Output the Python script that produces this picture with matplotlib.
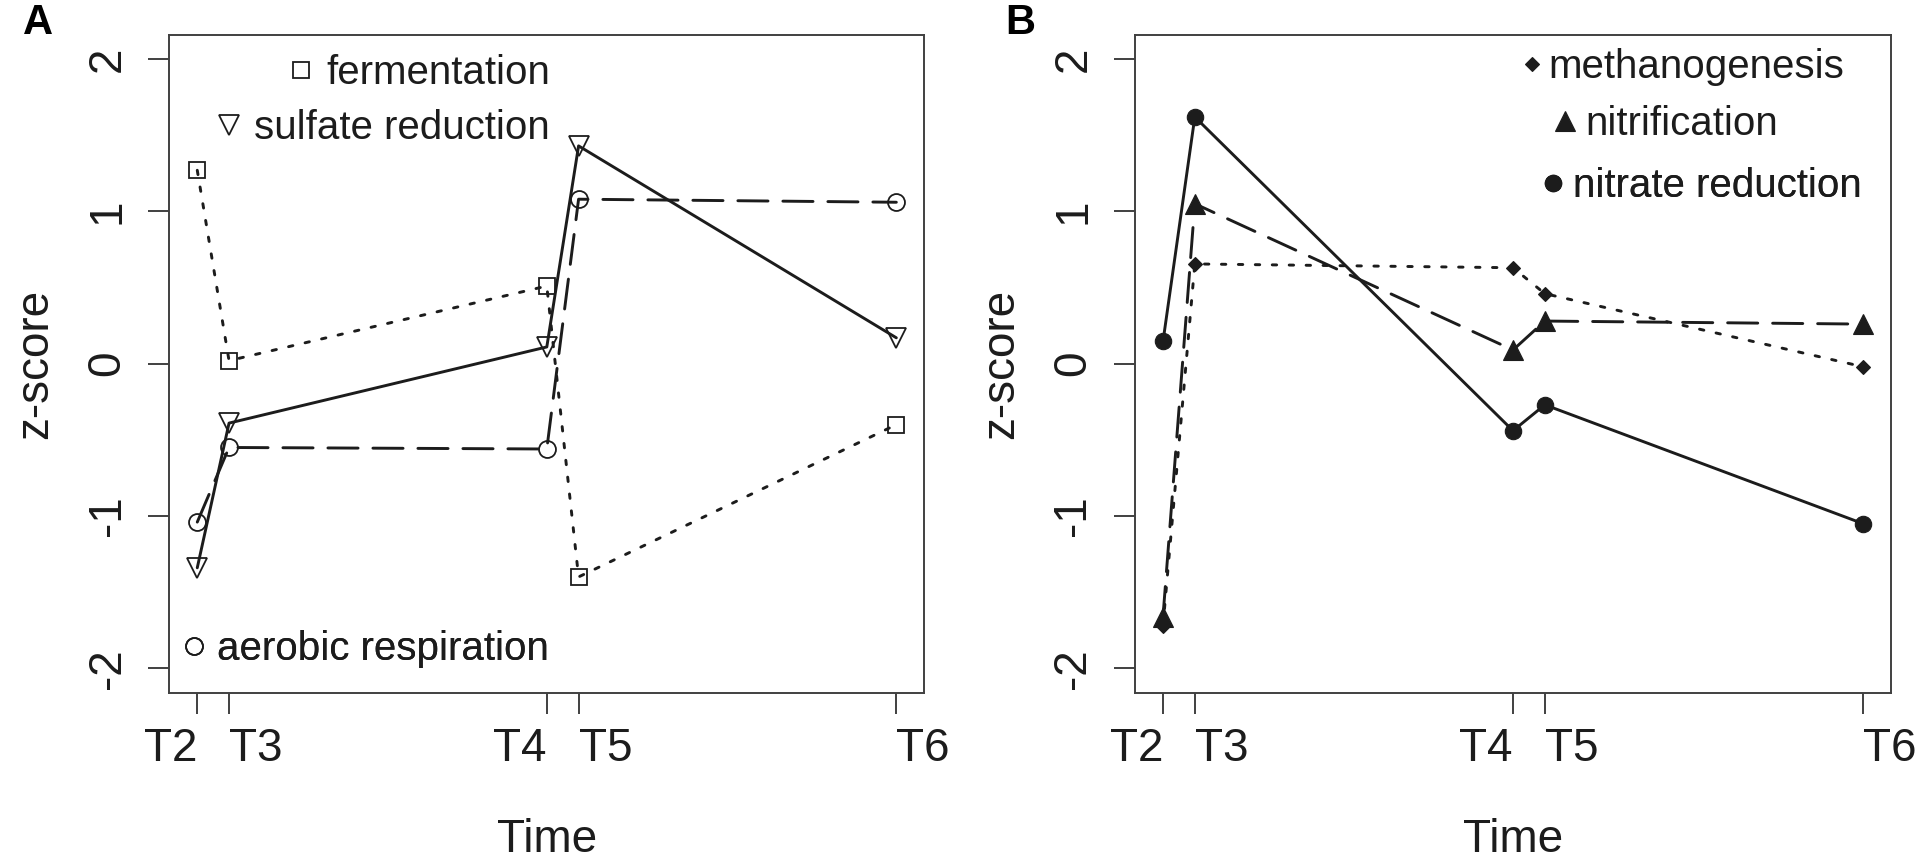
import matplotlib
matplotlib.use('Agg')
import matplotlib.pyplot as plt
from matplotlib.lines import Line2D

plt.rcParams['font.family'] = ['Liberation Sans', 'DejaVu Sans']
plt.rcParams['lines.scale_dashes'] = False

# ---------------- data ----------------
time_points = [0, 1, 11, 12, 22]
time_labels = ['T2', 'T3', 'T4', 'T5', 'T6']
y_ticks = [-2, -1, 0, 1, 2]
y_tick_labels = ['-2', '-1', '0', '1', '2']

# panel A
fermentation = [1.27, 0.02, 0.51, -1.40, -0.40]
sulfate_reduction = [-1.34, -0.39, 0.11, 1.43, 0.17]
aerobic_respiration = [-1.04, -0.55, -0.56, 1.08, 1.06]

# panel B
methanogenesis = [-1.72, 0.655, 0.63, 0.46, -0.02]
nitrification = [-1.66, 1.05, 0.09, 0.28, 0.26]
nitrate_reduction = [0.146, 1.62, -0.44, -0.27, -1.05]

# ---------------- style ----------------
INK = '#1c1c1c'
SPINE = '#404040'
DOTTED = (0, (3.2, 9.0))
DASHED = (0, (21.7, 10.7))
SOLID = '-'
LW = 2.1
TICK_HA = ['right', 'left', 'right', 'left', 'left']

W, H = 1933, 863
fig = plt.figure(figsize=(W / 100, H / 100), dpi=100)
fig.patch.set_facecolor('white')

AX_T, AX_B = 34.7, 692.7


def px_axes(l, r):
    return fig.add_axes([l / W, 1 - AX_B / H, (r - l) / W, (AX_B - AX_T) / H])


axA = px_axes(169.3, 924.3)
axB = px_axes(1135, 1891)
extA = (169.3, 924.3)
extB = (1135, 1891)

for ax in (axA, axB):
    ax.set_xlim(-0.88, 22.88)
    ax.set_ylim(-2.16, 2.16)
    ax.set_xticks(time_points)
    ax.set_xticklabels(time_labels)
    for lab, ha in zip(ax.get_xticklabels(), TICK_HA):
        lab.set_ha(ha)
    ax.set_yticks(y_ticks)
    ax.set_yticklabels(y_tick_labels)
    for s in ax.spines.values():
        s.set_color(SPINE)
        s.set_linewidth(1.4)
    ax.tick_params(axis='both', direction='out', length=15, width=1.4,
                   color=SPINE, labelsize=33, labelcolor=INK)
    ax.tick_params(axis='x', pad=9.5)
    ax.tick_params(axis='y', pad=13.5, labelrotation=90)
    for lab in ax.get_yticklabels():
        lab.set_va('center')
    ax.set_xlabel('Time', fontsize=33, color=INK)
    ax.set_ylabel('z-score', fontsize=33, color=INK)
    ax.xaxis.set_label_coords(0.5, -0.19)
    ax.yaxis.set_label_coords(-0.148, 0.5)


def series(ax, y, ls, marker, ms, filled):
    ax.plot(time_points, y, linestyle=ls, color=INK, linewidth=LW,
            dash_capstyle='round', solid_capstyle='round',
            marker=marker, markersize=ms,
            markerfacecolor=INK if filled else 'none',
            markeredgecolor=INK, markeredgewidth=1.3 if not filled else 0.8,
            clip_on=False)


# panel A
series(axA, fermentation, DOTTED, 's', 12.2, False)
series(axA, sulfate_reduction, SOLID, 'v', 15.0, False)
series(axA, aerobic_respiration, DASHED, 'o', 12.2, False)

# panel B
series(axB, methanogenesis, DOTTED, 'D', 7.0, True)
series(axB, nitrification, DASHED, '^', 14.0, True)
series(axB, nitrate_reduction, SOLID, 'o', 11.8, True)


def add_key(ax, ext, marker, ms, filled, label, x_px, y_px, textpad,
            side='right'):
    h = Line2D([], [], linestyle='none', marker=marker, markersize=ms,
               color=INK, markerfacecolor=INK if filled else 'none',
               markeredgecolor=INK, markeredgewidth=1.3 if not filled else 0.8)
    fx = (x_px - ext[0]) / (ext[1] - ext[0])
    fy = (AX_B - y_px) / (AX_B - AX_T)
    leg = ax.legend([h], [label], loc='center ' + side, bbox_to_anchor=(fx, fy),
                    bbox_transform=ax.transAxes, frameon=False, fontsize=29,
                    handlelength=0.5, handletextpad=textpad, borderpad=0,
                    borderaxespad=0, labelcolor=INK)
    ax.add_artist(leg)


add_key(axA, extA, 's', 12.2, False, 'fermentation', 550, 73, 0.375)
add_key(axA, extA, 'v', 15.0, False, 'sulfate reduction', 550, 128, 0.375)
add_key(axA, extA, 'o', 12.2, False, 'aerobic respiration', 549, 649, 0.33)

add_key(axB, extB, 'D', 7.0, True, 'methanogenesis', 1522, 67, 0.15, 'left')
add_key(axB, extB, '^', 14.0, True, 'nitrification', 1555, 124, 0.25, 'left')
add_key(axB, extB, 'o', 11.8, True, 'nitrate reduction', 1862, 186, 0.25)

fig.text(38 / W, 1 - 23 / H, 'A', ha='center', va='center',
         fontsize=30, fontweight='bold', color='black')
fig.text(1020 / W, 1 - 23 / H, 'B', ha='center', va='center',
         fontsize=30, fontweight='bold', color='black')

fig.savefig('out.png', dpi=100, facecolor='white')
